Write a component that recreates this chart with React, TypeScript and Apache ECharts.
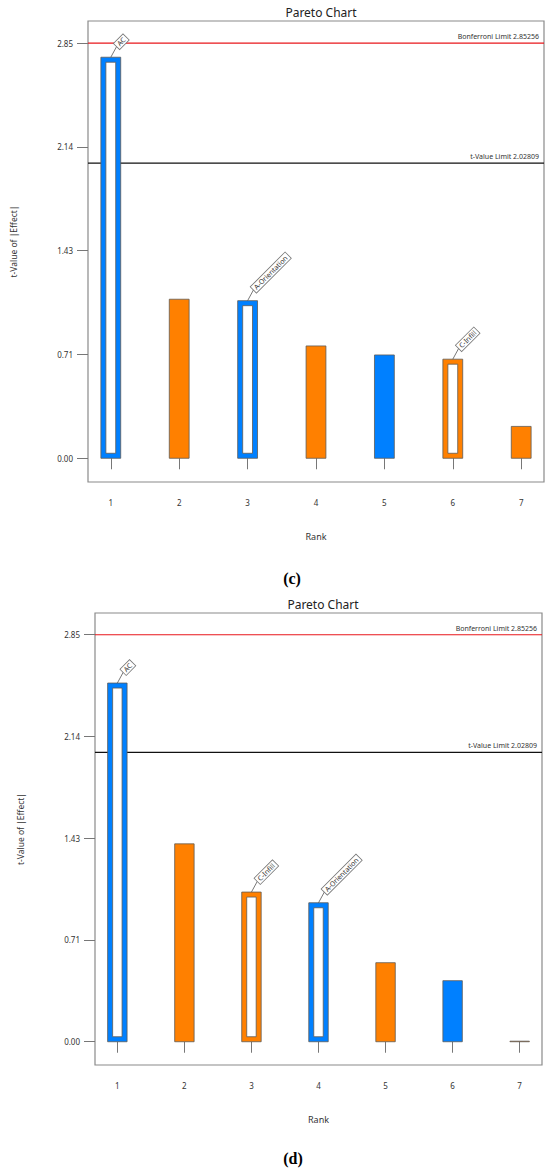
import React, { useEffect, useRef } from "react";
import * as echarts from "echarts";

// ---- data ----
const ranks = [1, 2, 3, 4, 5, 6, 7];
const tickValues = [0, 0.71314, 1.42628, 2.13942, 2.85256];
const bonferroniLimit = 2.85256;
const tValueLimit = 2.02809;

const valuesC = [2.756, 1.093, 1.083, 0.772, 0.71, 0.681, 0.219];
const signC = ["neg", "pos", "neg", "pos", "neg", "pos", "pos"];
const hollowC = [true, false, true, false, false, true, false];
const labelsC = ["AC", "", "A-Orientation", "", "", "C-Infill", ""];

const valuesD = [2.514, 1.387, 1.049, 0.974, 0.554, 0.428, 0.004];
const signD = ["neg", "pos", "pos", "neg", "pos", "neg", "pos"];
const hollowD = [true, false, true, true, false, false, false];
const labelsD = ["AC", "", "C-Infill", "A-Orientation", "", "", ""];

const panelTitles = ["Pareto Chart", "Pareto Chart"];
const panelLetters = ["(c)", "(d)"];

const BLUE = "#0080FF";
const ORANGE = "#FF8000";
const FONT = "Noto Sans";

function makeRender(signs: string[], hollow: boolean[], labels: string[]) {
  return (params: any, api: any) => {
    const i = params.dataIndex;
    const x = api.value(0);
    const v = api.value(1);
    const top = api.coord([x, v]);
    const base = api.coord([x, 0]);
    const w = api.size([0.29, 0])[0];
    const h = base[1] - top[1];
    const left = top[0] - w / 2;
    const color = signs[i] === "pos" ? ORANGE : BLUE;
    const children: any[] = [
      {
        type: "rect",
        shape: { x: left, y: top[1], width: w, height: h },
        style: { fill: color, stroke: "#5e5a56", lineWidth: 0.8 },
      },
    ];
    if (hollow[i] && h > 12) {
      children.push({
        type: "rect",
        shape: { x: left + 5, y: top[1] + 5, width: w - 10, height: h - 10 },
        style: { fill: "#fff", stroke: "#5e5a56", lineWidth: 0.8 },
      });
    }
    if (labels[i]) {
      const ex = top[0] + 6;
      const ey = top[1] - 11;
      children.push({
        type: "line",
        shape: { x1: top[0], y1: top[1], x2: ex, y2: ey },
        style: { stroke: "#555", lineWidth: 0.8 },
      });
      children.push({
        type: "text",
        x: ex,
        y: ey,
        rotation: Math.PI / 4,
        style: {
          text: labels[i],
          fontSize: 7,
          fontFamily: FONT,
          fill: "#333",
          align: "left",
          verticalAlign: "middle",
          backgroundColor: "#fff",
          borderColor: "#777",
          borderWidth: 0.8,
          padding: [1, 2, 0, 2],
        },
      });
    }
    return { type: "group", children };
  };
}

// horizontal limit line drawn through the axes' own scale
function limitSeries(gridIndex: number, value: number, text: string, color: string) {
  return {
    type: "custom",
    name: text,
    xAxisIndex: gridIndex,
    yAxisIndex: gridIndex,
    data: [[1, value]],
    silent: true,
    clip: false,
    z: 1,
    renderItem: (params: any, api: any) => {
      const cs = params.coordSys;
      const y = api.coord([api.value(0), api.value(1)])[1];
      return {
        type: "group",
        children: [
          {
            type: "line",
            shape: { x1: cs.x, y1: y, x2: cs.x + cs.width, y2: y },
            style: { stroke: color, lineWidth: 1.2 },
          },
          {
            type: "text",
            x: cs.x + cs.width - 5,
            y: y - 3,
            style: {
              text,
              fontSize: 7,
              fontFamily: FONT,
              fill: "#333",
              align: "right",
              verticalAlign: "bottom",
            },
          },
        ],
      };
    },
  };
}

function xAxisCfg(gridIndex: number) {
  return {
    type: "value",
    gridIndex,
    min: 2 / 3,
    max: 7 + 1 / 3,
    name: "Rank",
    nameLocation: "middle",
    nameGap: 50,
    nameTextStyle: { fontSize: 9, fontFamily: FONT, color: "#333" },
    axisLine: { show: false },
    splitLine: { show: false },
    axisTick: {
      show: true,
      length: 11,
      customValues: ranks,
      lineStyle: { color: "#777", width: 1 },
    },
    axisLabel: {
      customValues: ranks,
      margin: 16,
      fontSize: 8,
      fontFamily: FONT,
      color: "#333",
      formatter: (val: number) => String(Math.round(val)),
    },
  };
}

function yAxisCfg(gridIndex: number) {
  return {
    type: "value",
    gridIndex,
    min: -0.163,
    max: 3.005,
    name: "t-Value of |Effect|",
    nameLocation: "middle",
    nameRotate: 90,
    nameGap: 70,
    nameTextStyle: {
      fontSize: 8.5,
      fontFamily: FONT,
      color: "#333",
      padding: [0, 0, 0, 20],
    },
    axisLine: { show: false },
    splitLine: { show: false },
    axisTick: {
      show: true,
      length: 11,
      customValues: tickValues,
      lineStyle: { color: "#777", width: 1 },
    },
    axisLabel: {
      customValues: tickValues,
      margin: 15,
      fontSize: 8,
      fontFamily: FONT,
      color: "#333",
      formatter: (val: number) => val.toFixed(2),
    },
  };
}

export default function App() {
  const ref = useRef<HTMLDivElement>(null);
  useEffect(() => {
    if (!ref.current) return;
    const chart = echarts.init(ref.current, undefined, { renderer: "svg" });
    const titleStyle = { fontSize: 12, fontWeight: "normal", fontFamily: FONT, color: "#222" };
    const letterStyle = (text: string) => ({
      text,
      fontSize: 16,
      fontWeight: "bold",
      fontFamily: "Liberation Serif",
      fill: "#000",
      align: "center",
      verticalAlign: "middle",
    });
    const option: any = {
      animation: false,
      backgroundColor: "#fff",
      title: [
        { text: panelTitles[0], left: 316, top: 1, textAlign: "center", textStyle: titleStyle },
        { text: panelTitles[1], left: 318, top: 593, textAlign: "center", textStyle: titleStyle },
      ],
      graphic: [
        { type: "text", x: 292, y: 578, style: letterStyle(panelLetters[0]) },
        { type: "text", x: 293, y: 1158, style: letterStyle(panelLetters[1]) },
      ],
      grid: [
        { left: 88, top: 21, width: 456, height: 461, show: true, borderColor: "#8a8a8a", borderWidth: 1.2, backgroundColor: "transparent" },
        { left: 95, top: 613, width: 447, height: 452, show: true, borderColor: "#8a8a8a", borderWidth: 1.2, backgroundColor: "transparent" },
      ],
      xAxis: [xAxisCfg(0), xAxisCfg(1)],
      yAxis: [yAxisCfg(0), yAxisCfg(1)],
      series: [
        limitSeries(0, bonferroniLimit, "Bonferroni Limit " + bonferroniLimit.toFixed(5), "#e8161b"),
        limitSeries(0, tValueLimit, "t-Value Limit " + tValueLimit.toFixed(5), "#111111"),
        limitSeries(1, bonferroniLimit, "Bonferroni Limit " + bonferroniLimit.toFixed(5), "#e8161b"),
        limitSeries(1, tValueLimit, "t-Value Limit " + tValueLimit.toFixed(5), "#111111"),
        {
          type: "custom",
          name: "Chart c",
          xAxisIndex: 0,
          yAxisIndex: 0,
          data: ranks.map((r, i) => [r, valuesC[i]]),
          renderItem: makeRender(signC, hollowC, labelsC),
          clip: false,
          z: 2,
        },
        {
          type: "custom",
          name: "Chart d",
          xAxisIndex: 1,
          yAxisIndex: 1,
          data: ranks.map((r, i) => [r, valuesD[i]]),
          renderItem: makeRender(signD, hollowD, labelsD),
          clip: false,
          z: 2,
        },
      ],
    };
    chart.setOption(option);
    return () => chart.dispose();
  }, []);
  return (
    <div
      ref={ref}
      style={{ position: "absolute", left: 0, top: 0, width: 550, height: 1169, background: "#fff" }}
    />
  );
}
